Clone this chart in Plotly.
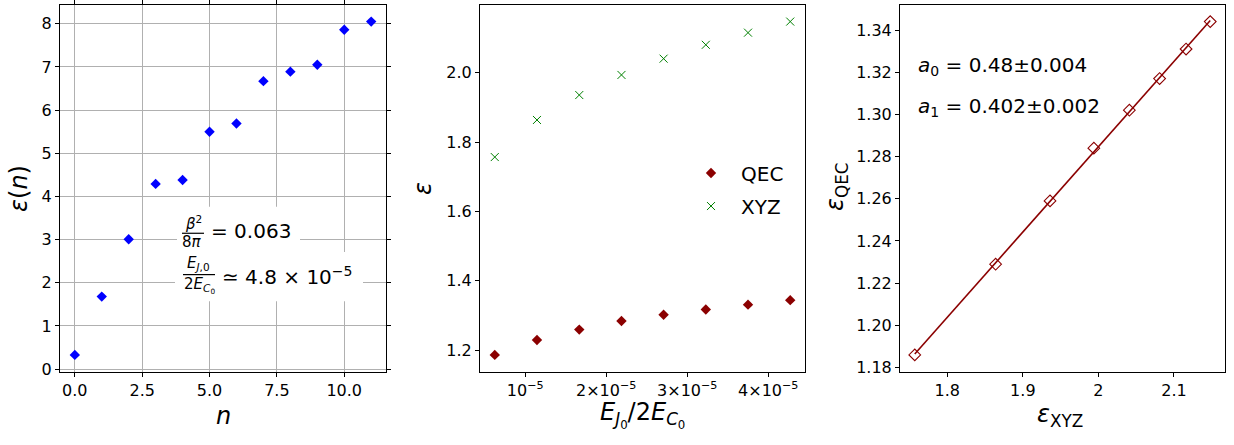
import numpy as np
import plotly.graph_objects as go

W, H = 1234, 445
FONT = "DejaVu Sans"

# ---------------- data ----------------
n_vals = list(range(12))
eps_n = [0.33, 1.68, 3.01, 4.29, 4.38, 5.50, 5.69, 6.67, 6.89, 7.05, 7.86, 8.05]

ej_ratio = [0.624e-5, 1.145e-5, 1.667e-5, 2.188e-5, 2.708e-5, 3.229e-5, 3.750e-5, 4.271e-5]
eps_qec = [1.186, 1.229, 1.259, 1.284, 1.302, 1.317, 1.331, 1.344]
eps_xyz = [1.757, 1.864, 1.936, 1.994, 2.041, 2.081, 2.116, 2.148]

x1_ticks = [0.0, 2.5, 5.0, 7.5, 10.0]
y1_ticks = [0, 1, 2, 3, 4, 5, 6, 7, 8]
x2_tickvals = [1e-5, 2e-5, 3e-5, 4e-5]
x2_ticktext = ["10<sup>−5</sup>", "2×10<sup>−5</sup>", "3×10<sup>−5</sup>", "4×10<sup>−5</sup>"]
y2_ticks = [1.2, 1.4, 1.6, 1.8, 2.0]
x3_ticks = [1.8, 1.9, 2.0, 2.1]
x3_ticktext = ["1.8", "1.9", "2", "2.1"]
y3_ticks = [1.18, 1.20, 1.22, 1.24, 1.26, 1.28, 1.30, 1.32, 1.34]

fit_text = ["<i>a</i><sub>0</sub> = 0.48±0.004", "<i>a</i><sub>1</sub> = 0.402±0.002"]


def px(x):
    return x / W


def py(y):
    return 1 - y / H


def rng(vals, m=0.05):
    lo, hi = min(vals), max(vals)
    d = (hi - lo) * m
    return [lo - d, hi + d]


fig = go.Figure()

# panel 1
fig.add_trace(go.Scatter(x=n_vals, y=eps_n, mode="markers", showlegend=False,
                         marker=dict(symbol="diamond", size=8, color="#0000ff"),
                         xaxis="x", yaxis="y"))
# panel 2
fig.add_trace(go.Scatter(x=ej_ratio, y=eps_qec, mode="markers", name="QEC",
                         legendgroup="g1",
                         marker=dict(symbol="diamond", size=8, color="#8b0000"),
                         xaxis="x2", yaxis="y2"))
fig.add_trace(go.Scatter(x=ej_ratio, y=eps_xyz, mode="markers", name="XYZ",
                         legendgroup="g2",
                         marker=dict(symbol="x-thin", size=8, color="#008000",
                                     line=dict(width=1, color="#008000")),
                         xaxis="x2", yaxis="y2"))
# panel 3 fit line + points
a1, a0 = np.polyfit(eps_xyz, eps_qec, 1)
xf = np.array([min(eps_xyz), max(eps_xyz)])
fig.add_trace(go.Scatter(x=xf, y=a0 + a1 * xf, mode="lines", showlegend=False,
                         line=dict(color="#8b0000", width=1.6),
                         xaxis="x3", yaxis="y3"))
fig.add_trace(go.Scatter(x=eps_xyz, y=eps_qec, mode="markers", showlegend=False,
                         marker=dict(symbol="diamond-open", size=9, color="#8b0000",
                                     line=dict(width=1.1, color="#8b0000")),
                         xaxis="x3", yaxis="y3"))

ydom = [py(377.5), py(5)]
common = dict(showline=True, linecolor="black", linewidth=1, ticks="outside",
              ticklen=4, tickwidth=1.2, tickcolor="black",
              tickfont=dict(family=FONT, size=16, color="black"),
              zeroline=False)

fig.update_layout(
    width=W, height=H,
    margin=dict(l=0, r=0, t=0, b=0),
    paper_bgcolor="white", plot_bgcolor="white",
    font=dict(family=FONT, color="black"),
    xaxis=dict(domain=[px(60), px(386)], range=rng(n_vals), tickvals=x1_ticks,
               tickformat=".1f", mirror="allticks", showgrid=True,
               gridcolor="#b0b0b0", gridwidth=1, anchor="y", **common),
    yaxis=dict(domain=ydom, range=rng(eps_n), tickvals=y1_ticks,
               mirror="allticks", showgrid=True, gridcolor="#b0b0b0",
               gridwidth=1, anchor="x", **common),
    xaxis2=dict(domain=[px(480), px(805)], range=rng(ej_ratio), tickvals=x2_tickvals,
                ticktext=x2_ticktext, mirror=True, showgrid=False, anchor="y2", **common),
    yaxis2=dict(domain=ydom, range=rng(eps_qec + eps_xyz), tickvals=y2_ticks,
                tickformat=".1f", mirror=True, showgrid=False, anchor="x2", **common),
    xaxis3=dict(domain=[px(900), px(1225)], range=rng(eps_xyz), tickvals=x3_ticks,
                ticktext=x3_ticktext, mirror=True, showgrid=False, anchor="y3", **common),
    yaxis3=dict(domain=ydom, range=rng(eps_qec), tickvals=y3_ticks,
                tickformat=".2f", mirror=True, showgrid=False, anchor="x3", **common),
    legend=dict(x=px(681), y=py(156), xanchor="left", yanchor="top",
                bgcolor="rgba(0,0,0,0)", font=dict(family=FONT, size=20, color="black"),
                tracegroupgap=4, itemwidth=50),
)

ann = []


def add(text, x, y, size, xanchor="center", yanchor="middle", angle=0):
    ann.append(dict(text=text, x=px(x), y=py(y), xref="paper", yref="paper",
                    showarrow=False, xanchor=xanchor, yanchor=yanchor,
                    textangle=angle, font=dict(family=FONT, size=size, color="black")))


# axis titles
add("<i>ε</i>(<i>n</i>)", 19, 192, 24, angle=-90)
add("<i>n</i>", 223, 423, 24)
add("<i>ε</i>", 423, 192, 24, angle=-90)
add("<i>E</i><sub><i>J</i><sub>0</sub></sub>/2<i>E</i><sub><i>C</i><sub>0</sub></sub>", 642, 422, 24)
add("<i>ε</i><sub>QEC</sub>", 836, 190, 24, angle=-90)
add("<i>ε</i><sub>XYZ</sub>", 1060, 422, 24)

# panel 3 fit annotations
add(fit_text[0], 916, 67, 20, xanchor="left")
add(fit_text[1], 916, 109, 20, xanchor="left")

# panel 1 boxed text (fractions)
shapes = [
    dict(type="rect", xref="paper", yref="paper", x0=px(177), x1=px(300),
         y0=py(210), y1=py(256), fillcolor="white", line=dict(width=0), layer="above"),
    dict(type="rect", xref="paper", yref="paper", x0=px(175), x1=px(363),
         y0=py(256), y1=py(306), fillcolor="white", line=dict(width=0), layer="above"),
    dict(type="line", xref="paper", yref="paper", x0=px(182), x1=px(204),
         y0=py(237), y1=py(237), line=dict(color="black", width=1.2), layer="above"),
    dict(type="line", xref="paper", yref="paper", x0=px(183), x1=px(215),
         y0=py(279), y1=py(279), line=dict(color="black", width=1.2), layer="above"),
]
add("<i>β</i><sup>2</sup>", 193, 227, 15)
add("8<i>π</i>", 192, 246, 15)
add("= 0.063", 209, 235, 20, xanchor="left")
add("<i>E</i><sub><i>J</i>,0</sub>", 198, 268, 15)
add("2<i>E</i><sub><i>C</i><sub>0</sub></sub>", 199, 290, 15)
add("≃ 4.8 × 10<sup>−5</sup>", 220, 280, 20, xanchor="left")

fig.update_layout(annotations=ann, shapes=shapes)
fig.write_html("out.html", config={"displayModeBar": False},
               post_script="document.body.style.margin='0px';")
